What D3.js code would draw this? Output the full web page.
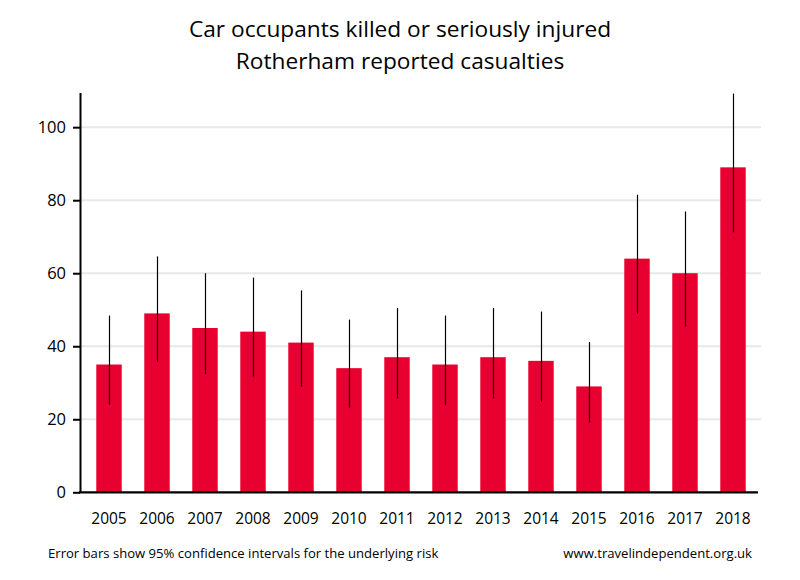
<!DOCTYPE html>
<html>
<head>
<meta charset="utf-8">
<script src="https://cdn.jsdelivr.net/npm/d3@7"></script>
<style>
  html, body { margin: 0; padding: 0; background: #fff; }
  svg { display: block; }
  text { font-family: "Open Sans", "Noto Sans", sans-serif; fill: #000; }
</style>
</head>
<body>
<svg id="chart" width="800" height="580"></svg>
<script>
const years = ["2005","2006","2007","2008","2009","2010","2011","2012","2013","2014","2015","2016","2017","2018"];
const casualties = [35, 49, 45, 44, 41, 34, 37, 35, 37, 36, 29, 64, 60, 89];
const ciLower = [24.0, 35.8, 32.4, 31.7, 29.0, 23.2, 25.7, 23.9, 25.7, 24.9, 19.1, 49.0, 45.4, 71.2];
const ciUpper = [48.4, 64.6, 60.0, 58.8, 55.3, 47.3, 50.5, 48.4, 50.5, 49.5, 41.2, 81.5, 76.9, 109.2];
const yTicks = [0, 20, 40, 60, 80, 100];
const titleLines = ["Car occupants killed or seriously injured", "Rotherham reported casualties"];
const footLeft = "Error bars show 95% confidence intervals for the underlying risk";
const footRight = "www.travelindependent.org.uk";

const data = years.map((y, i) => ({ year: y, value: casualties[i], lo: ciLower[i], hi: ciUpper[i] }));

const svg = d3.select("#chart");
const axisX = 80, plotRight = 761, bottom = 492.3;

const x = d3.scaleBand().domain(years).range([85, 757]).paddingInner(0.47).paddingOuter(0.235);
const y = d3.scaleLinear().domain([0, 109.5]).range([bottom, 92.5]);

// gridlines
svg.append("g").selectAll("line").data(yTicks.filter(t => t > 0)).join("line")
  .attr("x1", axisX).attr("x2", plotRight)
  .attr("y1", d => y(d)).attr("y2", d => y(d))
  .attr("stroke", "#e8e8e8").attr("stroke-width", 2);

// bars
svg.append("g").selectAll("rect").data(data).join("rect")
  .attr("x", d => x(d.year)).attr("width", x.bandwidth())
  .attr("y", d => y(d.value)).attr("height", d => y(0) - y(d.value))
  .attr("fill", "#e80030");

// error bars
svg.append("g").selectAll("line").data(data).join("line")
  .attr("x1", d => Math.round(x(d.year) + x.bandwidth() / 2) + 0.5)
  .attr("x2", d => Math.round(x(d.year) + x.bandwidth() / 2) + 0.5)
  .attr("y1", d => y(d.lo)).attr("y2", d => y(d.hi))
  .attr("stroke", "#000").attr("stroke-width", 1.2);

// y axis
const yAxis = svg.append("g").attr("transform", `translate(${axisX},0)`)
  .call(d3.axisLeft(y).tickValues(yTicks).tickSize(7).tickPadding(7).tickSizeOuter(0));
yAxis.select(".domain").attr("stroke", "#000").attr("stroke-width", 2);
yAxis.selectAll(".tick line").attr("stroke", "#000").attr("stroke-width", 2);
yAxis.selectAll(".tick text").attr("font-size", 16.5).attr("font-family", "Open Sans").attr("fill", "#000");

// x axis
const xAxis = svg.append("g").attr("transform", `translate(0,${bottom})`)
  .call(d3.axisBottom(x).tickSize(0).tickPadding(21));
xAxis.select(".domain").attr("d", `M${axisX - 1},0H758`).attr("stroke", "#000").attr("stroke-width", 2.2);
xAxis.selectAll(".tick text").attr("font-size", 15.5).attr("font-family", "Open Sans").attr("fill", "#000");

// title
svg.append("g").selectAll("text").data(titleLines).join("text")
  .attr("x", 400).attr("y", (d, i) => 37 + i * 32)
  .attr("text-anchor", "middle").attr("font-size", 22.7)
  .text(d => d);

// footer
svg.append("text").attr("x", 48).attr("y", 558).attr("font-size", 13.1).text(footLeft);
svg.append("text").attr("x", 752).attr("y", 558).attr("text-anchor", "end").attr("font-size", 13.1).text(footRight);
</script>
</body>
</html>
